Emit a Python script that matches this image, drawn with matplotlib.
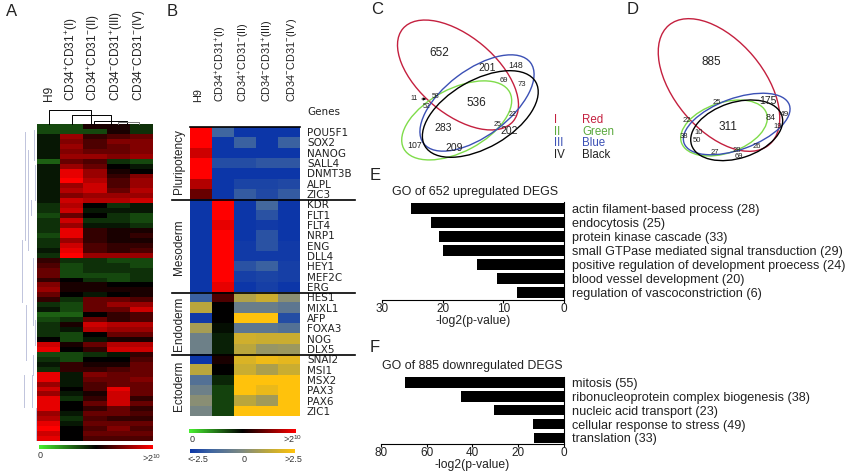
"""Expression heatmaps, Venn diagrams and GO enrichment bars for CD34/CD31 subsets."""

import numpy as np
import matplotlib
matplotlib.use("Agg")
import matplotlib.pyplot as plt
from matplotlib.cm import ScalarMappable
from matplotlib.colors import LinearSegmentedColormap, Normalize
from matplotlib.patches import Ellipse

plt.rcParams["font.family"] = ["Liberation Sans", "DejaVu Sans"]
plt.rcParams["mathtext.fontset"] = "custom"
plt.rcParams["mathtext.rm"] = "Liberation Sans"
plt.rcParams["mathtext.default"] = "rm"

W, H = 850, 475

samples = ["H9", "CD34$^{+}$CD31$^{+}$(I)", "CD34$^{+}$CD31$^{-}$(II)",
           "CD34$^{-}$CD31$^{+}$(III)", "CD34$^{-}$CD31$^{-}$(IV)"]

# log2 expression, one row per block of probes, columns H9, I, II, III, IV
heatmap_a = [
    [3.5, 3.5, 5.5, 5.5, 4], [3.5, 3.5, 3.5, 5.5, 4], [4.5, 8, 6, 6.5, 7],
    [4.5, 7.5, 6.5, 7.5, 7.5], [4.5, 8, 6.5, 7, 7.5], [4.5, 7.5, 7, 7, 7.5],
    [4.5, 8, 8, 7.5, 8], [3, 7, 6.5, 4, 3.5], [4.5, 8, 7, 5, 4.5],
    [4.5, 9.5, 8, 5.5, 5], [4.5, 9.5, 8, 6, 7.5], [4.5, 10, 8.5, 6.5, 8],
    [4.5, 8, 9, 6.5, 8], [4.5, 8.5, 9, 7, 8.5], [4.5, 7.5, 8, 8, 8],
    [4.5, 9, 8.5, 8.5, 9], [4, 8.5, 5, 4, 4.5], [4, 9, 4.5, 4.5, 4.5],
    [3.5, 7, 5, 4, 3.5], [4, 9, 4, 4, 3.5], [4, 8, 4.5, 4.5, 4],
    [4, 9.5, 6, 5.5, 5.5], [3.5, 9.5, 6, 5.5, 6], [4, 8, 6, 5.5, 5.5],
    [4, 9, 6.5, 6, 6], [4.5, 9.5, 6.5, 6, 6.5], [4, 10, 8, 8, 8],
    [6, 4, 4, 3.5, 3.5], [6.5, 3.5, 4, 4, 3.5], [7, 3.5, 4, 4, 4],
    [7, 3.5, 3.5, 3.5, 4], [6, 5, 4, 3.5, 4], [7.5, 5.5, 5.5, 5, 5],
    [8, 5.5, 5.5, 5.5, 5.5], [7, 5, 4.5, 5, 5.5], [6, 4, 7, 7, 6.5],
    [4, 3.5, 7, 8, 8], [4.5, 3.5, 7, 7, 9], [3, 3, 5, 6, 6.5],
    [3.5, 4, 7, 6, 6.5], [4, 5.5, 9, 8.5, 8.5], [4, 4.5, 8.5, 8, 8],
    [4, 3.5, 5, 7, 7], [5, 3.5, 4.5, 5.5, 5.5], [9, 5.5, 7, 8.5, 8.5],
    [9.5, 5, 6, 9, 9], [3.5, 3.5, 4, 4.5, 6], [4, 3.5, 5, 5, 6.5],
    [4.5, 6, 5.5, 5.5, 7], [4, 6, 6, 6.5, 7], [9.5, 4.5, 7.5, 7, 7],
    [9.5, 4.5, 7, 7, 7.5], [8, 4.5, 6.5, 7, 7], [9, 5, 6.5, 9.5, 7],
    [8, 4.5, 5.5, 9, 7], [9.5, 4, 6, 9, 6], [9.5, 5, 7, 9, 7],
    [9.5, 5, 6, 7, 6], [8, 4.5, 7, 7, 6.5], [8.5, 4, 6.5, 6, 6],
    [9.5, 4.5, 7, 7, 7], [10, 5, 6.5, 7.5, 6.5], [9, 5, 7, 7, 7],
    [9.5, 5, 6.5, 6.5, 6.5],
]

genes = ["POU5F1", "SOX2", "NANOG", "SALL4", "DNMT3B", "ALPL", "ZIC3",
         "KDR", "FLT1", "FLT4", "NRP1", "ENG", "DLL4", "HEY1", "MEF2C", "ERG",
         "HES1", "MIXL1", "AFP", "FOXA3", "NOG", "DLX5",
         "SNAI2", "MSI1", "MSX2", "PAX3", "PAX6", "ZIC1"]
n = np.nan
# green-black-red scale (log2), nan where the gene is on the blue-yellow scale
genes_log2 = [
    [10, n, n, n, n], [10, n, n, n, n], [9, n, n, n, n], [10, n, n, n, n],
    [10, n, n, n, n], [8.5, n, n, n, n], [7, n, n, n, n],
    [n, 10, n, n, n], [n, 10, n, n, n], [n, 9.5, n, n, n], [n, 10, n, n, n],
    [n, 10, n, n, n], [n, 10, n, n, n], [n, 10, n, n, n], [n, 10, n, n, n],
    [n, 9.5, n, n, n],
    [n, 6.5, n, n, n], [n, 5, n, n, n], [n, 5, n, n, n], [n, 4.7, n, n, n],
    [n, 4.3, n, n, n], [n, 4.3, n, n, n],
    [n, 5.5, n, n, n], [n, 5, n, n, n], [n, 4.2, n, n, n], [n, 3.6, n, n, n],
    [n, 3.6, n, n, n], [n, 3.6, n, n, n],
]
# blue-yellow scale (z score), nan where the gene is on the log2 scale
genes_z = [
    [n, -1.5, -2.5, -2.5, -2.5], [n, -2.5, -1.6, -2.5, -1.6],
    [n, -2.5, -2.5, -2.5, -2.5], [n, -2.0, -2.0, -1.8, -1.8],
    [n, -2.5, -2.5, -2.5, -2.5], [n, -2.5, -2.2, -2.2, -2.1],
    [n, -2.5, -1.7, -2.1, -1.7],
    [-2.5, n, -2.5, -1.4, -2.5], [-2.5, n, -2.5, -1.9, -2.5],
    [-2.5, n, -2.5, -2.4, -2.5], [-2.5, n, -2.5, -1.9, -2.5],
    [-2.5, n, -2.4, -1.9, -2.4], [-2.5, n, -2.4, -2.4, -2.4],
    [-2.5, n, -1.9, -1.6, -2.3], [-2.5, n, -2.3, -2.2, -2.3],
    [-2.5, n, -2.5, -2.3, -2.5],
    [-1.6, n, 1.0, 1.5, 0.2], [1.2, n, -0.5, -0.5, -0.8],
    [-2.4, n, 2.5, 2.5, -2.0], [0.8, n, -0.8, -0.8, -1.0],
    [-0.4, n, 1.6, 1.5, 1.5], [-0.4, n, 1.2, 0.5, 0.6],
    [-2.5, n, 1.8, 2.2, 2.0], [1.2, n, 1.5, 0.9, 1.5],
    [-1.0, n, 2.5, 2.5, 2.5], [-0.4, n, 2.5, 2.1, 2.5],
    [0.2, n, 1.2, 0.7, 2.5], [-0.2, n, 2.5, 2.5, 2.5],
]
gene_groups = ["Pluripotency", "Mesoderm", "Endoderm", "Ectoderm"]
group_sizes = [7, 9, 6, 6]

go_up_terms = ["actin filament-based process (28)", "endocytosis (25)",
               "protein kinase cascade (33)",
               "small GTPase mediated signal transduction (29)",
               "positive regulation of development proecess (24)",
               "blood vessel development (20)",
               "regulation of vascoconstriction (6)"]
go_up_values = [25.3, 21.9, 20.7, 20.0, 14.4, 11.1, 7.8]
go_down_terms = ["mitosis (55)", "ribonucleoprotein complex biogenesis (38)",
                 "nucleic acid transport (23)", "cellular response to stress (49)",
                 "translation (33)"]
go_down_values = [69.6, 44.8, 30.5, 13.5, 13.0]

RED, GREEN, BLUE = "#c4203f", "#7fdc4a", "#3b50b5"

rg_cmap = LinearSegmentedColormap.from_list(
    "rg", [(0.0, "#48f030"), (0.5, "#000000"), (1.0, "#ff0000")])
by_cmap = LinearSegmentedColormap.from_list(
    "by", [(0.0, "#0c36a8"), (0.2, "#3f66a0"), (0.5, "#7f8a80"),
           (0.75, "#bda83a"), (1.0, "#ffc20c")])
rg_norm = Normalize(0, 10)
by_norm = Normalize(-2.5, 2.5)


def px_axes(fig, left, top, right, bottom):
    """Add axes from pixel edges measured from the top left."""
    return fig.add_axes([left / W, 1 - bottom / H, (right - left) / W, (bottom - top) / H])


def gene_bars(fig, box, ylim, terms, values, xmax, ticks, height):
    ax = px_axes(fig, *box)
    ax.barh(range(len(values)), values, height=height, color="black")
    ax.set_xlim(xmax, 0)
    ax.set_ylim(*ylim)
    ax.set_xticks(ticks)
    ax.set_yticks(range(len(terms)), terms)
    ax.yaxis.tick_right()
    ax.tick_params(axis="y", length=0, pad=6, labelsize=9.1, labelcolor="#222222")
    ax.tick_params(axis="x", length=2, width=0.8, pad=0.5, labelsize=8.5, labelcolor="#222222")
    for side in ["top", "left"]:
        ax.spines[side].set_visible(False)
    ax.set_xlabel("-log2(p-value)", fontsize=8.7, labelpad=0, color="#222222")
    ax.patch.set_alpha(0)
    return ax


def hbar(fig, box, cmap, norm):
    cax = px_axes(fig, *box)
    cb = fig.colorbar(ScalarMappable(norm=norm, cmap=cmap), cax=cax, orientation="horizontal")
    cb.set_ticks([])
    cb.outline.set_visible(False)


fig = plt.figure(figsize=(W / 100, H / 100), dpi=100)

# A: clustered heatmap
ax_a = px_axes(fig, 37, 124, 153, 441)
ax_a.imshow(np.array(heatmap_a), cmap=rg_cmap, norm=rg_norm, aspect="auto", interpolation="nearest")
ax_a.axis("off")
hbar(fig, (39, 445, 153, 449), rg_cmap, rg_norm)

# B: marker gene heatmap, two colour scales on one grid
ax_b = px_axes(fig, 190, 127, 300, 416)
ax_b.imshow(np.array(genes_z, dtype=float), cmap=by_cmap, norm=by_norm, aspect="auto", interpolation="nearest")
ax_b.imshow(np.array(genes_log2, dtype=float), cmap=rg_cmap, norm=rg_norm, aspect="auto", interpolation="nearest")
ax_b.set_xticks([])
ax_b.set_yticks(range(len(genes)), genes)
ax_b.yaxis.tick_right()
for label in ax_b.get_yticklabels():
    label.set_family("DejaVu Sans")
ax_b.tick_params(axis="y", length=0, pad=5, labelsize=7.5, labelcolor="#222222")
for spine in ax_b.spines.values():
    spine.set_visible(False)
hbar(fig, (189, 429, 296, 433), rg_cmap, rg_norm)
hbar(fig, (190, 449, 295, 453), by_cmap, by_norm)

# E, F: GO enrichment
gene_bars(fig, (382.3, 202, 564, 300), (6.52, -0.48), go_up_terms, go_up_values, 30, [30, 20, 10, 0], 0.76)
gene_bars(fig, (380.7, 377, 564, 444), (4.45, -0.41), go_down_terms, go_down_values, 80, [80, 60, 40, 20, 0], 0.75)

# overlay in pixel coordinates for annotations and Venn outlines
ov = fig.add_axes([0, 0, 1, 1], zorder=5)
ov.set_xlim(0, W)
ov.set_ylim(H, 0)
ov.axis("off")
ov.patch.set_alpha(0)

for label, x, y in [("A", 12, 11), ("B", 172, 11), ("C", 377, 9), ("D", 633, 10), ("E", 375, 175), ("F", 375, 348)]:
    ov.text(x, y, label, fontsize=12, ha="center", va="center", color="#222222")

for x, name in zip([49, 72, 94, 117, 139], samples):
    ov.text(x, 101, name, rotation=90, fontsize=8.6, ha="center", va="bottom", color="#222222")
for x, name in zip([198, 221, 244, 268, 292], samples):
    ov.text(x, 102, name, rotation=90, fontsize=7.8, ha="center", va="bottom", color="#222222")

# dendrogram above A
for x0, x1, y0, y1, color in [(49, 91, 110, 124, "black"), (72, 111, 115, 124, "black"),
                              (94, 127, 121, 124, "black"), (118, 139, 122, 124, "#777777")]:
    ov.plot([x0, x0, x1, x1], [y1, y0, y0, y1], color=color, lw=0.7)

# faint row dendrogram left of A
for x, y0, y1 in [(25, 132, 240), (22, 240, 302), (28, 150, 250), (31, 200, 215), (33, 258, 300),
                  (34, 130, 160), (26, 305, 360), (33, 355, 375), (32, 375, 407), (24, 375, 407),
                  (35, 320, 345), (36, 408, 440), (35, 165, 200), (33, 290, 325)]:
    ov.plot([x, x], [y0, y1], color="#c0c4dc", lw=0.7)

ov.text(307, 112, "Genes", fontsize=7.5, family="DejaVu Sans", ha="left", va="center", color="#222222")
for y, name in zip([162, 247, 324, 386], gene_groups):
    ov.text(179, y, name, rotation=90, fontsize=8.5, ha="center", va="center", color="#222222")
ov.plot([190, 300], [127, 127], color="black", lw=1.2)
for y in [200, 293, 355]:
    ov.plot([172, 355], [y, y], color="black", lw=1.2)

# colour bar captions
ov.text(40, 456, "0", fontsize=6.5, ha="center", va="center", color="#333333")
ov.text(152, 458, ">2$^{10}$", fontsize=6.5, ha="center", va="center", color="#333333")
ov.text(192, 440, "0", fontsize=6.5, ha="center", va="center", color="#333333")
ov.text(293, 439, ">2$^{10}$", fontsize=6.5, ha="center", va="center", color="#333333")
ov.text(198, 459, "<-2.5", fontsize=6.5, ha="center", va="center", color="#333333")
ov.text(244, 459, "0", fontsize=6.5, ha="center", va="center", color="#333333")
ov.text(293, 459, ">2.5", fontsize=6.5, ha="center", va="center", color="#333333")

# C and D Venn outlines: x, y, semi axes, tilt
for x, y, a, b, tilt, color in [(458, 75, 72, 38.7, 40, RED), (456.7, 120.4, 60, 31.4, -28, GREEN),
                                (477, 103, 67, 33, -37, BLUE), (480.3, 114, 64, 33.7, -30, "black"),
                                (719, 85, 78, 44.8, 50, RED), (724, 128, 45, 25.2, -19, GREEN),
                                (736.7, 124, 56, 25.6, -20, BLUE), (736.7, 130.3, 47.5, 27.9, -18, "black")]:
    ov.add_patch(Ellipse((x, y), 2 * a, 2 * b, angle=tilt, fill=False, edgecolor=color, lw=1.0))

for x, y, txt, size in [(439, 53, "652", 8.5), (487, 68, "201", 7.5), (516, 65, "148", 6.3), (504, 80, "69", 5.5),
                        (522, 85, "73", 5.5), (476, 103, "536", 8.5), (443, 128, "283", 7.5), (509, 131, "202", 7.5),
                        (454, 148, "209", 7.5), (415, 145, "107", 6.3), (513, 114, "22", 5), (498, 124, "25", 5),
                        (414, 99, "11", 5), (436, 97, "58", 5), (427, 106, "52", 5),
                        (711, 62, "885", 8.5), (768, 101, "175", 7.5), (771, 117, "84", 6.5), (784, 114, "49", 6),
                        (728, 127, "311", 8.5), (778, 126, "19", 5.5), (687, 121, "22", 5.5), (699, 132, "10", 5.5),
                        (684, 137, "38", 5.5), (697, 141, "50", 5.5), (715, 153, "27", 5.5), (737, 151, "28", 5.5),
                        (757, 146, "26", 5.5), (739, 157, "69", 5.5), (717, 103, "25", 5.5)]:
    ov.text(x, y, txt, fontsize=size, ha="center", va="center", color="#222222")
ov.annotate("", xy=(429, 99), xytext=(419, 99), arrowprops=dict(arrowstyle="-|>", lw=0.6, color="black", mutation_scale=4))

# C legend
for y, num, name, color in [(120, "I", "Red", RED), (132, "II", "Green", "#5aa83c"), (143, "III", "Blue", BLUE), (155, "IV", "Black", "#222222")]:
    ov.text(554, y, num, fontsize=8.3, ha="left", va="center", color=color)
    ov.text(582, y, name, fontsize=8.3, ha="left", va="center", color=color)

ov.text(392, 192, "GO of 652 upregulated DEGS", fontsize=9, ha="left", va="center", color="#222222")
ov.text(382, 366, "GO of 885 downregulated DEGS", fontsize=8.9, ha="left", va="center", color="#222222")

fig.savefig("out.png", dpi=100)
plt.close(fig)
